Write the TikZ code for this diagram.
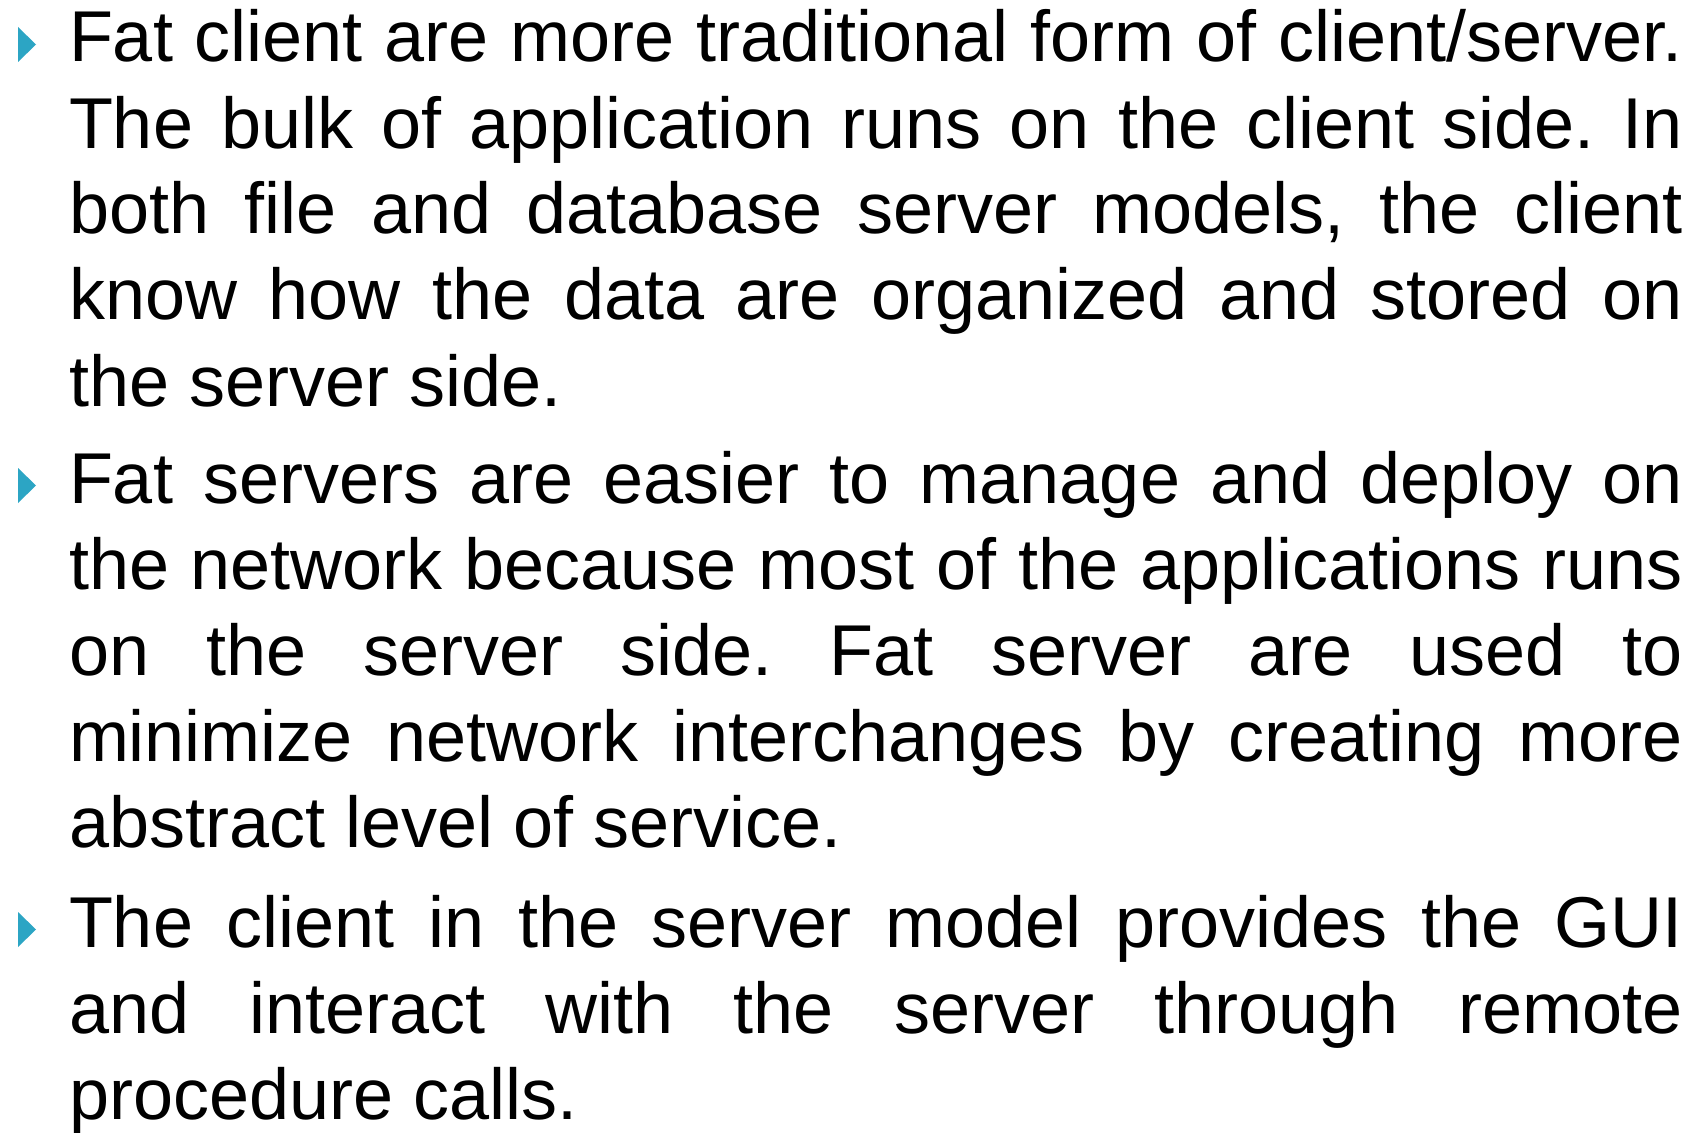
\documentclass[tikz,border=0pt]{standalone}
\usepackage{fontspec}
\setmainfont{Liberation Sans}
\definecolor{bul}{RGB}{44,165,196}
\newlength\tw
\setlength\tw{1614pt}
\newcommand\jl[1]{\hbox to \tw{#1}}
\newcommand\lastln[1]{\hbox{#1}}
\tikzset{
  para/.style={anchor=base west, inner sep=0pt, outer sep=0pt, font=\fontsize{72}{86}\selectfont\frenchspacing},
  bulletmark/.style={fill=bul}
}
\begin{document}
\begin{tikzpicture}[x=1pt,y=-1pt]
\useasboundingbox (0,0) rectangle (1702,1132);
\fill[white] (0,0) rectangle (1702,1132);
% bullets
\foreach \b in {62,503,947}{
  \fill[bulletmark] (18,\b-35) -- (36,\b-17.5) -- (18,\b) -- cycle;
}
\node[para] (p1) at (69,62) {\vtop{\baselineskip=86pt
\jl{Fat client are more traditional form of client/server.}
\jl{The bulk of application runs on the client side. In}
\jl{both file and database server models, the client}
\jl{know how the data are organized and stored on}
\lastln{the server side.}}};
\node[para] (p2) at (69,503) {\vtop{\baselineskip=86pt
\jl{Fat servers are easier to manage and deploy on}
\jl{the network because most of the applications runs}
\jl{on the server side. Fat server are used to}
\jl{minimize network interchanges by creating more}
\lastln{abstract level of service.}}};
\node[para] (p3) at (69,947) {\vtop{\baselineskip=86pt
\jl{The client in the server model provides the GUI}
\jl{and interact with the server through remote}
\lastln{procedure calls.}}};
\end{tikzpicture}
\end{document}
